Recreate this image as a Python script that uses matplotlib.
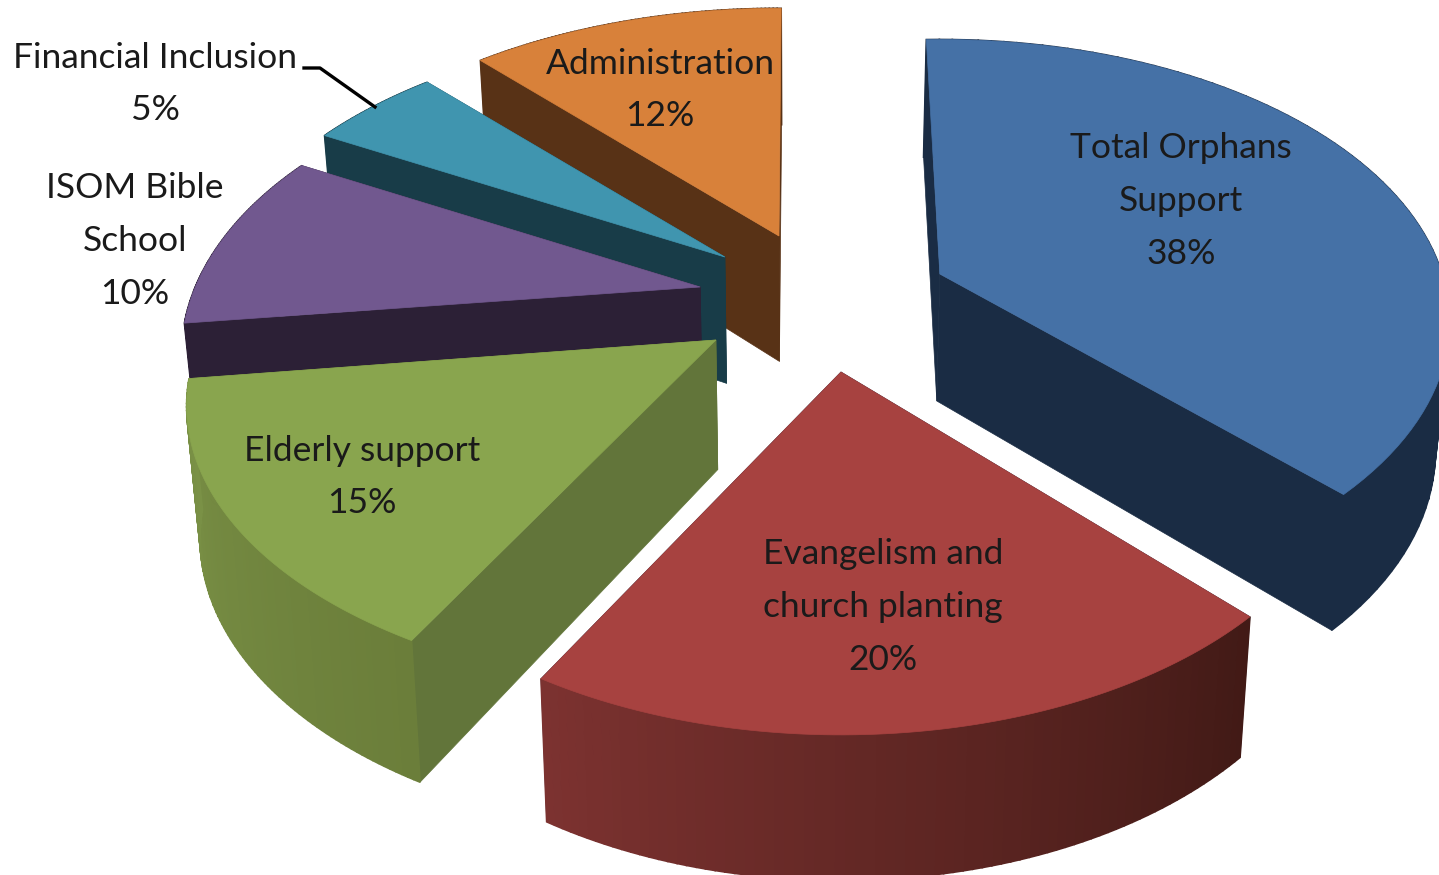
#!/usr/bin/env python3
"""Exploded 3D pie chart, drawn as projected polygons."""

import numpy as np
import matplotlib
matplotlib.use('Agg')
import matplotlib.pyplot as plt

# Data, clockwise from 12 o'clock
categories = ['Total Orphans\nSupport', 'Evangelism and\nchurch planting', 'Elderly support',
              'ISOM Bible\nSchool', 'Financial Inclusion', 'Administration']
values = [38, 20, 15, 10, 5, 12]

# Styles per slice
top_colors = ['#4571a6', '#a74240', '#89a54e', '#71588f', '#4095af', '#d8813a']
wall_colors = ['#1a2c44', '#1a2c44', '#62753a', '#2c2036', '#183c48', '#583216']
arc_dark = ['#1a2c44', '#421a16', '#6b7e3a', '#2c2036', '#183c48', '#583216']
arc_light = ['#1a2c44', '#7c3230', '#7a9146', '#2c2036', '#183c48', '#583216']

# Projection of the pie plane to pixels
center = (800, 295)
scale_x, scale_y = 510, 280
# explode offsets in pie units, one (x, y) per slice
explode_x = [0.279, 0.0756, -0.159, -0.197, -0.152, -0.0433]
explode_y = [0.0763, -0.2586, -0.155, 0.0288, 0.14, 0.2215]
persp = [0.17, 0.23, 0.23, 0.23, 0.23, 0.23]
radius_x = [0.985, 0.975, 1.01, 0.99, 0.995, 1.005]
radius_y = [0.98, 0.998, 0.97, 1.0, 1.0, 1.0]
angle_shift = [-1.8, 0, -0.7, 0, 0, 0.3]
draw_order = [5, 4, 3, 2, 0, 1]

# text position of each label (pixels)
label_pos = [(1181, 201), (883, 607), (362, 477), (135, 241), (155, 84), (660, 90)]


def project(x, y, p):
    w = 1 + p * y
    return scale_x * x / w, -scale_y * y / w


def apex_of(i):
    dx, dy = project(explode_x[i], explode_y[i], 0.23)
    return center[0] + dx, center[1] + dy


def to_bottom(x, y):
    # walls get taller toward the viewer and lean in a little
    return 800 + (x - 800) * 0.978, y + 116 + 0.04 * y


def draw_slice(ax, i, start, end):
    ax0, ay0 = apex_of(i)
    theta = np.radians(np.linspace(start, end, 80) + angle_shift[i])
    dx, dy = project(np.sin(theta), np.cos(theta), persp[i])
    xs, ys = ax0 + radius_x[i] * dx, ay0 + radius_y[i] * dy
    bx, by = to_bottom(xs, ys)
    abx, aby = to_bottom(ax0, ay0)

    # flat walls along the two radial cuts
    for k in (0, -1):
        ax.fill([ax0, xs[k], bx[k], abx], [ay0, ys[k], by[k], aby],
                color=wall_colors[i], lw=0.5)

    # curved outer wall, shaded strip by strip
    dark = np.array(matplotlib.colors.to_rgb(arc_dark[i]))
    light = np.array(matplotlib.colors.to_rgb(arc_light[i]))
    for k in range(len(xs) - 1):
        t = k / (len(xs) - 2)
        ax.fill([xs[k], xs[k + 1], bx[k + 1], bx[k]], [ys[k], ys[k + 1], by[k + 1], by[k]],
                color=dark + (light - dark) * t, lw=1.2)

    # top face
    ax.fill(np.r_[ax0, xs], np.r_[ay0, ys], color=top_colors[i], lw=0.5)


def main():
    plt.rcParams['font.family'] = ['Lato', 'DejaVu Sans']
    fig = plt.figure(figsize=(14.39, 8.75), dpi=100)
    ax = fig.add_axes([0, 0, 1, 1])
    ax.set_xlim(0, 1439)
    ax.set_ylim(875, 0)
    ax.axis('off')

    total = sum(values)
    edges = np.r_[0, np.cumsum(values)] * 360.0 / total
    for i in draw_order:
        draw_slice(ax, i, edges[i], edges[i + 1])

    for i, name in enumerate(categories):
        label = f'{name}\n{values[i] * 100 / total:.0f}%'
        ax.text(label_pos[i][0], label_pos[i][1], label, ha='center', va='center',
                fontsize=25.5, color='#1a1a1a', linespacing=1.8, zorder=5)

    # leader line for the small slice
    ax.plot([304, 320, 375], [68, 68, 107], color='black', lw=2.4, zorder=5)

    fig.savefig('out.png', dpi=100)


if __name__ == '__main__':
    main()
